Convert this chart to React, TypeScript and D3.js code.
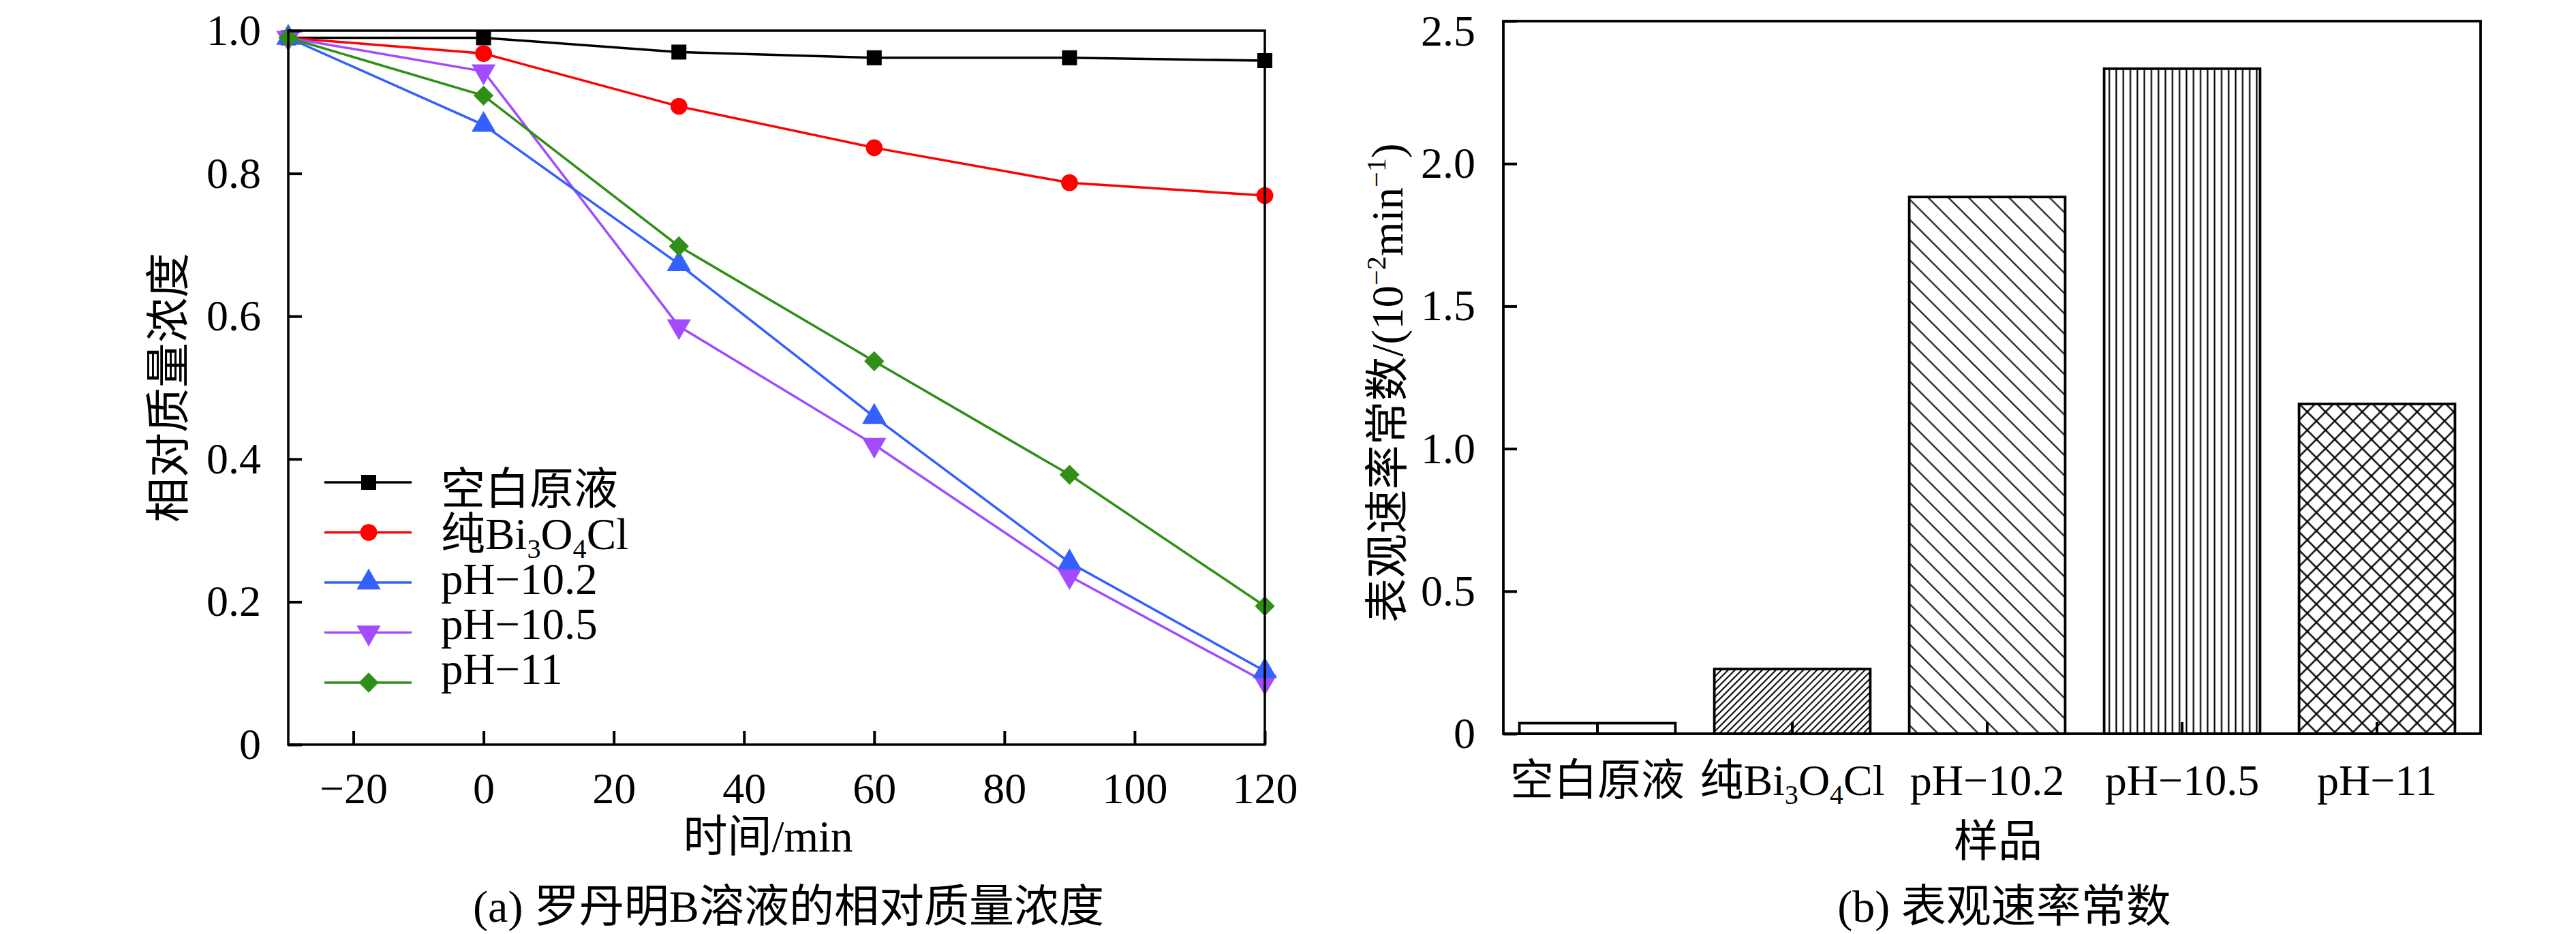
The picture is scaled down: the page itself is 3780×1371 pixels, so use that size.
import React, { useEffect, useRef } from 'react';
import * as d3 from 'd3';

// ---- data ----
const timePoints = [-30, 0, 30, 60, 90, 120];
const seriesNames = ['空白原液', '纯Bi_3O_4Cl', 'pH−10.2', 'pH−10.5', 'pH−11'];
const blankValues = [0.99, 0.99, 0.97, 0.962, 0.962, 0.958];
const pureValues = [0.99, 0.968, 0.894, 0.836, 0.787, 0.769];
const ph102Values = [0.99, 0.868, 0.673, 0.459, 0.255, 0.103];
const ph105Values = [0.99, 0.943, 0.586, 0.42, 0.236, 0.088];
const ph11Values = [0.99, 0.909, 0.698, 0.537, 0.378, 0.194];

const sampleNames = ['空白原液', '纯Bi_3O_4Cl', 'pH−10.2', 'pH−10.5', 'pH−11'];
const rateValues = [0.037, 0.227, 1.883, 2.333, 1.157];

const xTicksA = [-20, 0, 20, 40, 60, 80, 100, 120];
const yTicksA = [0, 0.2, 0.4, 0.6, 0.8, 1.0];
const yTicksB = [0, 0.5, 1.0, 1.5, 2.0, 2.5];

// ---- styles ----
const seriesColors = ['#000000', '#ff0000', '#3360ff', '#a24bff', '#2f8f16'];
const seriesSymbols = ['square', 'circle', 'up', 'down', 'diamond'];
const drawOrder = [0, 1, 3, 2, 4];
const barPatterns = ['none', 'fwd', 'back', 'vert', 'cross'];

const FONT = "'Liberation Serif', 'Times New Roman', 'Noto Sans CJK SC', serif";
const FS = 64;

// text with _x subscripts and ^x superscripts
function richText(sel: any, str: string, fs: number) {
  const parts = str.split(/(_[0-9]|\^[−0-9]+)/).filter(p => p !== '');
  let shift = 0;
  parts.forEach(p => {
    let target = 0, text = p, size = fs;
    if (p.startsWith('_')) { target = fs * 0.2; text = p.slice(1); size = fs * 0.62; }
    else if (p.startsWith('^')) { target = -fs * 0.38; text = p.slice(1); size = fs * 0.62; }
    sel.append('tspan').attr('dy', target - shift).attr('font-size', size).text(text);
    shift = target;
  });
}

function symbolPath(kind: string) {
  switch (kind) {
    case 'square': return d3.symbol(d3.symbolSquare, 484)();
    case 'circle': return d3.symbol(d3.symbolCircle, 480)();
    case 'up': return d3.symbol(d3.symbolTriangle, 540)();
    case 'down': return d3.symbol(d3.symbolTriangle, 540)();
    default: return d3.symbol(d3.symbolSquare, 430)();
  }
}
function symbolRotate(kind: string) {
  if (kind === 'down') return 180;
  if (kind === 'diamond') return 45;
  return 0;
}

const App: React.FC = () => {
  const svgRef = useRef<SVGSVGElement>(null);

  useEffect(() => {
    if (!svgRef.current) return;
    const svg = d3.select(svgRef.current);
    svg.selectAll('*').remove();
    svg.attr('font-family', FONT);

    const defs = svg.append('defs');
    const makePattern = (id: string, spacing: number, angle: number, sw: number, grid = false) => {
      const p = defs.append('pattern')
        .attr('id', id)
        .attr('patternUnits', 'userSpaceOnUse')
        .attr('width', spacing)
        .attr('height', spacing)
        .attr('patternTransform', `rotate(${angle})`);
      p.append('rect').attr('width', spacing).attr('height', spacing).attr('fill', '#fff');
      p.append('line').attr('x1', spacing / 2).attr('x2', spacing / 2).attr('y1', -1).attr('y2', spacing + 1)
        .attr('stroke', '#000').attr('stroke-width', sw);
      if (grid) {
        p.append('line').attr('y1', spacing / 2).attr('y2', spacing / 2).attr('x1', -1).attr('x2', spacing + 1)
          .attr('stroke', '#000').attr('stroke-width', sw);
      }
    };
    makePattern('fwd', 7.1, 45, 2);
    makePattern('back', 21, -45, 2);
    makePattern('vert', 10.3, 0, 2.2);
    makePattern('cross', 19, 45, 2.4, true);

    // ================= panel (a) =================
    const ax = { left: 423, right: 1856, top: 45, bottom: 1093 };
    const x = d3.scaleLinear().domain([-30, 120]).range([ax.left, ax.right]);
    const y = d3.scaleLinear().domain([0, 1]).range([ax.bottom, ax.top]);
    const ga = svg.append('g');

    const allSeries = [blankValues, pureValues, ph102Values, ph105Values, ph11Values];
    const line = d3.line<number>().x((_, i) => x(timePoints[i])).y(d => y(d));

    drawOrder.forEach(si => {
      const vals = allSeries[si];
      ga.append('path').datum(vals)
        .attr('d', line)
        .attr('fill', 'none')
        .attr('stroke', seriesColors[si])
        .attr('stroke-width', 3.5);
      ga.selectAll(null).data(vals).enter().append('path')
        .attr('d', symbolPath(seriesSymbols[si]))
        .attr('transform', (d, i) => `translate(${x(timePoints[i])},${y(d)}) rotate(${symbolRotate(seriesSymbols[si])})`)
        .attr('fill', seriesColors[si]);
    });

    // frame
    ga.append('rect')
      .attr('x', ax.left).attr('y', ax.top)
      .attr('width', ax.right - ax.left).attr('height', ax.bottom - ax.top)
      .attr('fill', 'none').attr('stroke', '#000').attr('stroke-width', 3.5);

    const xAxisA = ga.append('g').attr('transform', `translate(0,${ax.bottom})`)
      .call(d3.axisBottom(x).tickValues(xTicksA).tickSize(-20).tickPadding(41).tickFormat(d3.format('d') as any));
    const yAxisA = ga.append('g').attr('transform', `translate(${ax.left},0)`)
      .call(d3.axisLeft(y).tickValues(yTicksA).tickSize(-20).tickPadding(40)
        .tickFormat((d: any) => (d === 0 ? '0' : d3.format('.1f')(d))));
    [xAxisA, yAxisA].forEach(a => {
      a.select('.domain').remove();
      a.selectAll('.tick line').attr('stroke', '#000').attr('stroke-width', 4);
      a.selectAll('.tick text').attr('font-size', FS).attr('font-family', FONT).attr('fill', '#000');
    });

    // legend
    const legLineY0 = 708, legLineStep = 73.5;
    const legTextY0 = 740, legTextStep = 66;
    seriesNames.forEach((name, i) => {
      const ly = legLineY0 + i * legLineStep;
      ga.append('line').attr('x1', 476).attr('x2', 604).attr('y1', ly).attr('y2', ly)
        .attr('stroke', seriesColors[i]).attr('stroke-width', 3.5);
      ga.append('path').attr('d', symbolPath(seriesSymbols[i]))
        .attr('transform', `translate(541,${ly}) rotate(${symbolRotate(seriesSymbols[i])})`)
        .attr('fill', seriesColors[i]);
      const t = ga.append('text').attr('x', 647).attr('y', legTextY0 + i * legTextStep)
        .attr('font-size', 65).attr('fill', '#000');
      richText(t, name, 65);
    });

    // axis titles
    ga.append('text')
      .attr('transform', `translate(270,${(ax.top + ax.bottom) / 2}) rotate(-90)`)
      .attr('text-anchor', 'middle').attr('font-size', 66).text('相对质量浓度');
    ga.append('text').attr('x', 1127).attr('y', 1250)
      .attr('text-anchor', 'middle').attr('font-size', 65).text('时间/min');
    ga.append('text').attr('x', 1157).attr('y', 1353)
      .attr('text-anchor', 'middle').attr('font-size', 66).text('(a) 罗丹明B溶液的相对质量浓度');

    // ================= panel (b) =================
    const bx = { left: 2206, right: 3640, top: 31, bottom: 1077 };
    const xb = d3.scaleBand<string>().domain(sampleNames).range([2201, 3631])
      .paddingInner(0.2).paddingOuter(0.1);
    const yb = d3.scaleLinear().domain([0, 2.5]).range([bx.bottom, bx.top]);
    const gb = svg.append('g');

    gb.selectAll('.bar').data(rateValues).enter().append('rect')
      .attr('x', (_, i) => xb(sampleNames[i])!)
      .attr('y', d => yb(d))
      .attr('width', xb.bandwidth())
      .attr('height', d => yb(0) - yb(d))
      .attr('fill', (_, i) => (barPatterns[i] === 'none' ? '#fff' : `url(#${barPatterns[i]})`))
      .attr('stroke', '#000')
      .attr('stroke-width', 3.8);

    gb.append('rect')
      .attr('x', bx.left).attr('y', bx.top)
      .attr('width', bx.right - bx.left).attr('height', bx.bottom - bx.top)
      .attr('fill', 'none').attr('stroke', '#000').attr('stroke-width', 3.8);

    const xAxisB = gb.append('g').attr('transform', `translate(0,${bx.bottom})`)
      .call(d3.axisBottom(xb).tickSize(-17).tickPadding(44));
    const yAxisB = gb.append('g').attr('transform', `translate(${bx.left},0)`)
      .call(d3.axisLeft(yb).tickValues(yTicksB).tickSize(-20).tickPadding(41)
        .tickFormat((d: any) => (d === 0 ? '0' : d3.format('.1f')(d))));
    [xAxisB, yAxisB].forEach(a => {
      a.select('.domain').remove();
      a.selectAll('.tick line').attr('stroke', '#000').attr('stroke-width', 4);
      a.selectAll('.tick text').attr('font-size', FS).attr('font-family', FONT).attr('fill', '#000');
    });
    // category labels rebuilt with subscripts; baseline set explicitly
    xAxisB.selectAll('.tick text').each(function (d: any) {
      const t = d3.select(this);
      t.text(null).attr('dy', null).attr('y', 90);
      richText(t, d, FS);
    });
    // top label sits a little lower so it stays inside the picture
    yAxisB.selectAll('.tick text').filter((d: any) => d === 2.5).attr('dy', '0.55em');

    const yl = gb.append('text')
      .attr('transform', `translate(2058,${(bx.top + bx.bottom) / 2 + 8}) rotate(-90)`)
      .attr('text-anchor', 'middle').attr('font-size', 65);
    richText(yl, '表观速率常数/(10^−2min^−1)', 65);
    gb.append('text').attr('x', 2932).attr('y', 1257)
      .attr('text-anchor', 'middle').attr('font-size', 65).text('样品');
    gb.append('text').attr('x', 2941).attr('y', 1353)
      .attr('text-anchor', 'middle').attr('font-size', 66).text('(b) 表观速率常数');
  }, []);

  return (
    <div style={{ position: 'absolute', left: 0, top: 0 }}>
      <svg ref={svgRef} width={3780} height={1371} style={{ display: 'block', background: '#fff' }} />
    </div>
  );
};

export default App;
